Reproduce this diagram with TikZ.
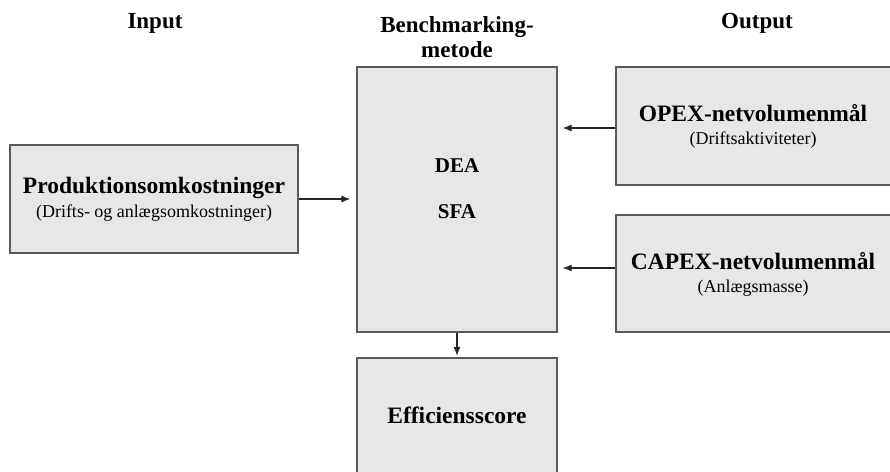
\documentclass[tikz,border=0pt]{standalone}
\usepackage{fontspec}
\setmainfont{Liberation Serif}
\usetikzlibrary{arrows.meta}
\definecolor{boxfill}{HTML}{E8E6E7}
\definecolor{boxline}{HTML}{5A5A5A}
\tikzset{
  box/.style={draw=boxline, fill=boxfill, line width=1.2pt, inner sep=0pt},
  arr/.style={draw=black!85, line width=1.1pt, -{Latex[length=9pt,width=7pt]}},
  ttl/.style={font=\fontsize{23}{25}\selectfont\bfseries, align=center},
  main/.style={font=\fontsize{23.5}{26}\selectfont\bfseries},
  mid/.style={font=\fontsize{21}{24}\selectfont\bfseries},
  sub/.style={font=\fontsize{18}{20}\selectfont},
}
\begin{document}
\begin{tikzpicture}[x=1pt,y=-1pt]
\useasboundingbox (0,0) rectangle (890,471);
\clip (0,0) rectangle (890,471);
\fill[white] (0,0) rectangle (890,471);
% titles
\node[ttl] (tin) at (155,23) {Input};
\node[ttl] (tbm) at (457,37) {Benchmarking-\\metode};
\node[ttl] (tout) at (757,23) {Output};
% boxes
\node[box, minimum width=288pt, minimum height=108pt] (in) at (154,199) {};
\node[box, minimum width=200pt, minimum height=265pt] (bm) at (457,199.5) {};
\node[box, minimum width=200pt, minimum height=124pt] (eff) at (457,420) {};
\node[box, minimum width=284pt, minimum height=118pt] (opex) at (758,126) {};
\node[box, minimum width=284pt, minimum height=117pt] (capex) at (758,273.5) {};
% texts
\node[main] (intx) at (154,188) {Produktionsomkostninger};
\node[sub] (insub) at (154,213) {(Drifts- og anlægsomkostninger)};
\node[mid] (dea) at (457,166) {DEA};
\node[mid] (sfa) at (457,212) {SFA};
\node[main] (efftx) at (457,415) {Efficiensscore};
\node[main] (opextx) at (753,113) {OPEX-netvolumenmål};
\node[sub] (opexsub) at (753,140) {(Driftsaktiviteter)};
\node[main] (capextx) at (753,261) {CAPEX-netvolumenmål};
\node[sub] (capexsub) at (753,288) {(Anlægsmasse)};
% arrows
\draw[arr, shorten >=6pt] (in.east) -- (in.east -| bm.west);
\draw[arr, shorten >=5pt] ([yshift=-2pt]opex.west) -- ([yshift=-2pt]opex.west -| bm.east);
\draw[arr, shorten >=5pt] ([yshift=5.5pt]capex.west) -- ([yshift=5.5pt]capex.west -| bm.east);
\draw[arr, shorten >=1.5pt] (bm.south) -- (eff.north);
\end{tikzpicture}
\end{document}
